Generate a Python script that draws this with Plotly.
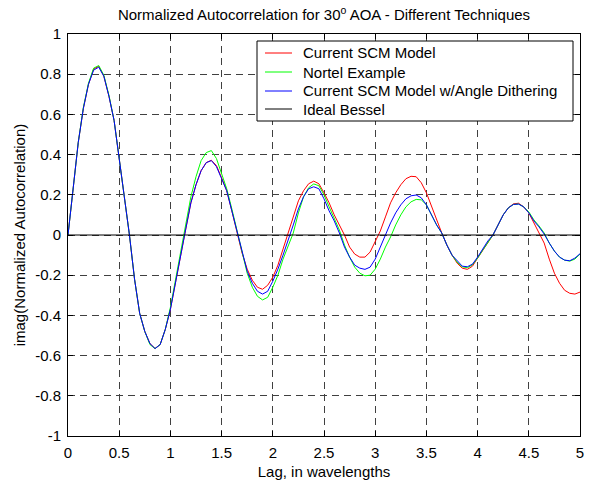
import plotly.graph_objects as go

# Lag grid (wavelengths)
lag = [round(i * 0.05, 2) for i in range(101)]

scm_model = [
    0.000, 0.23, 0.46, 0.63, 0.75, 0.825, 0.84, 0.79, 0.69, 0.57,
    0.37, 0.19, 0.00, -0.22, -0.39, -0.48, -0.54, -0.565, -0.545, -0.47,
    -0.37, -0.23, -0.10, 0.03, 0.16, 0.25, 0.32, 0.36, 0.372, 0.345,
    0.285, 0.22, 0.12, 0.02, -0.09, -0.17, -0.225, -0.26, -0.27, -0.25,
    -0.21, -0.15, -0.07, 0.00, 0.09, 0.17, 0.22, 0.255, 0.268, 0.255,
    0.21, 0.16, 0.10, 0.05, 0.00, -0.06, -0.095, -0.11, -0.11, -0.085,
    -0.03, 0.02, 0.09, 0.16, 0.21, 0.25, 0.28, 0.292, 0.29, 0.26,
    0.21, 0.14, 0.07, 0.01, -0.05, -0.10, -0.14, -0.165, -0.171, -0.155,
    -0.115, -0.075, -0.035, 0.00, 0.05, 0.10, 0.135, 0.155, 0.158, 0.14,
    0.11, 0.06, 0.015, -0.04, -0.12, -0.19, -0.24, -0.275, -0.29, -0.294,
    -0.284,
]

nortel = [
    0.000, 0.23, 0.46, 0.635, 0.755, 0.83, 0.843, 0.795, 0.695, 0.57,
    0.37, 0.19, 0.00, -0.22, -0.39, -0.48, -0.545, -0.565, -0.545, -0.47,
    -0.36, -0.22, -0.08, 0.05, 0.19, 0.29, 0.37, 0.41, 0.42, 0.38,
    0.31, 0.23, 0.13, 0.02, -0.09, -0.19, -0.26, -0.305, -0.323, -0.31,
    -0.26, -0.20, -0.12, -0.05, 0.01, 0.11, 0.19, 0.235, 0.254, 0.245,
    0.20, 0.14, 0.08, 0.025, -0.05, -0.11, -0.16, -0.19, -0.203, -0.20,
    -0.17, -0.12, -0.06, -0.01, 0.05, 0.10, 0.14, 0.165, 0.177, 0.175,
    0.15, 0.10, 0.05, 0.01, -0.05, -0.10, -0.135, -0.158, -0.163, -0.148,
    -0.115, -0.075, -0.035, 0.00, 0.05, 0.10, 0.135, 0.152, 0.154, 0.14,
    0.115, 0.075, 0.045, 0.01, -0.04, -0.08, -0.11, -0.125, -0.13, -0.12,
    -0.095,
]

scm_dither = [
    0.000, 0.23, 0.46, 0.63, 0.75, 0.82, 0.835, 0.79, 0.69, 0.57,
    0.37, 0.19, 0.00, -0.22, -0.39, -0.48, -0.54, -0.565, -0.545, -0.47,
    -0.37, -0.23, -0.10, 0.03, 0.16, 0.25, 0.32, 0.36, 0.37, 0.34,
    0.28, 0.22, 0.12, 0.02, -0.09, -0.18, -0.24, -0.28, -0.294, -0.28,
    -0.23, -0.17, -0.10, -0.03, 0.05, 0.13, 0.19, 0.23, 0.24, 0.23,
    0.18, 0.12, 0.07, 0.01, -0.06, -0.11, -0.15, -0.165, -0.171, -0.16,
    -0.12, -0.06, 0.00, 0.06, 0.11, 0.15, 0.18, 0.195, 0.199, 0.185,
    0.15, 0.10, 0.05, 0.01, -0.05, -0.10, -0.13, -0.155, -0.158, -0.145,
    -0.11, -0.07, -0.03, 0.00, 0.05, 0.10, 0.135, 0.152, 0.154, 0.14,
    0.11, 0.07, 0.04, 0.005, -0.04, -0.08, -0.11, -0.125, -0.128, -0.115,
    -0.093,
]

ideal_bessel = [0.0] * len(lag)

series_names = ["Current SCM Model", "Nortel Example",
                "Current SCM Model w/Angle Dithering", "Ideal Bessel"]
series_colors = ["#ff0000", "#00ff00", "#0000ff", "#000000"]

x_tickvals = [0, 0.5, 1, 1.5, 2, 2.5, 3, 3.5, 4, 4.5, 5]
x_ticktext = ["0", "0.5", "1", "1.5", "2", "2.5", "3", "3.5", "4", "4.5", "5"]
y_tickvals = [1, 0.8, 0.6, 0.4, 0.2, 0, -0.2, -0.4, -0.6, -0.8, -1]
y_ticktext = ["1", "0.8", "0.6", "0.4", "0.2", "0", "-0.2", "-0.4", "-0.6", "-0.8", "-1"]

FONT = "Arial, 'Liberation Sans', sans-serif"
FS = 15

# plot-area geometry in pixels
L, R, T, B = 68, 580, 34, 436
W, H = R - L, B - T


def px(xp):
    return (xp - L) / W


def py(yp):
    return (B - yp) / H


fig = go.Figure()
for name, ys, col in zip(series_names, [scm_model, nortel, scm_dither, ideal_bessel], series_colors):
    fig.add_trace(go.Scatter(x=lag, y=ys, mode="lines", name=name,
                             line=dict(color=col, width=1), showlegend=False))

axis_common = dict(
    showline=True, linecolor="black", linewidth=1, mirror="ticks",
    ticks="inside", ticklen=5, tickcolor="black", tickwidth=1,
    showgrid=True, gridcolor="#404040", griddash="7px,5px", gridwidth=1,
    zeroline=False, automargin=False,
    tickfont=dict(family=FONT, size=FS, color="black"),
)

fig.update_xaxes(range=[0, 5], tickvals=x_tickvals, ticktext=x_ticktext,
                 title=dict(text="Lag, in wavelengths", standoff=6,
                            font=dict(family=FONT, size=FS, color="black")),
                 ticklabelstandoff=3, **axis_common)
fig.update_yaxes(range=[-1, 1], tickvals=y_tickvals, ticktext=y_ticktext,
                 title=dict(text="imag(Normalized Autocorrelation)", standoff=5,
                            font=dict(family=FONT, size=FS, color="black")),
                 ticklabelstandoff=3, **axis_common)

# Legend box drawn in the MATLAB style
shapes = [dict(type="rect", xref="paper", yref="paper",
               x0=px(257), x1=px(573), y0=py(121), y1=py(41),
               line=dict(color="black", width=1), fillcolor="white", layer="above")]
annotations = []
legend_rows = [53, 72, 91, 109]
for name, col, yrow in zip(series_names, series_colors, legend_rows):
    shapes.append(dict(type="line", xref="paper", yref="paper",
                       x0=px(265), x1=px(292), y0=py(yrow), y1=py(yrow),
                       line=dict(color=col, width=1), layer="above"))
    annotations.append(dict(text=name, xref="paper", yref="paper",
                            x=px(301), y=py(yrow), xanchor="left", yanchor="middle",
                            showarrow=False,
                            font=dict(family=FONT, size=FS, color="black")))

fig.update_layout(
    width=590, height=480,
    margin=dict(l=L, r=590 - R, t=T, b=480 - B, autoexpand=False),
    paper_bgcolor="white", plot_bgcolor="white",
    font=dict(family=FONT, size=FS, color="black"),
    title=dict(text="Normalized Autocorrelation for 30<sup>o</sup> AOA - Different Techniques",
               x=(L + R) / 2 / 590, xanchor="center", y=1 - 15 / 480, yanchor="middle",
               font=dict(family=FONT, size=FS, color="black")),
    shapes=shapes, annotations=annotations,
    showlegend=False,
)

fig.write_html("out.html")
